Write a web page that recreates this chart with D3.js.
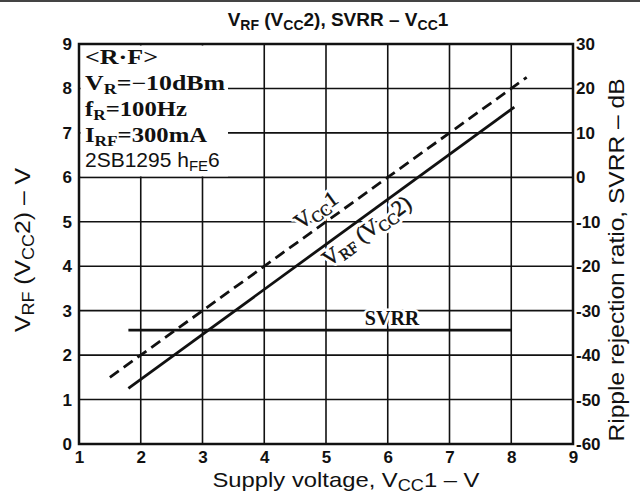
<!DOCTYPE html>
<html><head><meta charset="utf-8">
<script src="https://cdn.jsdelivr.net/npm/d3@7"></script>
<style>html,body{margin:0;padding:0;background:#fff}</style>
</head><body><svg id="chart" width="640" height="494"></svg>
<script>
// Axis ticks
const xTicks = [1, 2, 3, 4, 5, 6, 7, 8, 9];
const leftTicks = [0, 1, 2, 3, 4, 5, 6, 7, 8, 9];
const rightTicks = [-60, -50, -40, -30, -20, -10, 0, 10, 20, 30];

// Curves: supply voltage VCC1 (V) on x
const vcc1X = [1.5, 8.25];
const vcc1Y = [1.5, 8.25];          // V
const vrfX = [1.8, 8.05];
const vrfY = [1.25, 7.58];          // V_RF (VCC2), V
const svrrX = [1.8, 8.0];
const svrrDb = [-34.4, -34.4];      // dB

// Test conditions block
const condLines = [
  [["<R·F>", 0]],
  [["V", 0], ["R", 1], ["=−10dBm", 0]],
  [["f", 0], ["R", 1], ["=100Hz", 0]],
  [["I", 0], ["RF", 1], ["=300mA", 0]]
];

const svg = d3.select("#chart");
const m = {l: 79, r: 573, t: 44, b: 444};
const x = d3.scaleLinear().domain([1, 9]).range([m.l, m.r]);
const yL = d3.scaleLinear().domain([0, 9]).range([m.b, m.t]);
const yR = d3.scaleLinear().domain([-60, 30]).range([m.b, m.t]);

const ink = "#111";
const SANS = "'Liberation Sans', Arial, sans-serif";
const SERIF = "'Liberation Serif', 'Times New Roman', serif";

// text with subscript runs
function rich(t, parts, subSize, shift) {
  let down = false;
  parts.forEach(([s, sub]) => {
    const ts = t.append("tspan").text(s);
    if (sub) {
      ts.style("font-size", subSize + "px");
      if (!down) { ts.attr("dy", shift); down = true; }
    } else if (down) { ts.attr("dy", -shift); down = false; }
  });
  return t;
}

// frame line across the top
svg.append("rect").attr("x", 0).attr("y", 0).attr("width", 640).attr("height", 2).attr("fill", "#444");

// grid
const grid = svg.append("g").attr("stroke", ink).attr("stroke-width", 1.6);
grid.selectAll("line.v").data(xTicks).join("line")
  .attr("x1", d => x(d)).attr("x2", d => x(d)).attr("y1", m.t).attr("y2", m.b);
grid.selectAll("line.h").data(leftTicks).join("line")
  .attr("x1", m.l).attr("x2", m.r).attr("y1", d => yL(d)).attr("y2", d => yL(d));

// clear area for the conditions block
svg.append("rect").attr("x", m.l + 1.5).attr("y", m.t + 1.5)
  .attr("width", 228 - m.l - 1.5).attr("height", yL(6) - m.t - 2.5).attr("fill", "#fff");

// conditions text
const condBase = [64, 90, 116, 142];
const condLen = [73, 140, 102, 122];
condLines.forEach((parts, i) => {
  const t = svg.append("text").attr("x", 85).attr("y", condBase[i])
    .style("font-family", SERIF).style("font-weight", "bold").style("font-size", "20px")
    .attr("fill", ink).attr("textLength", condLen[i]).attr("lengthAdjust", "spacingAndGlyphs");
  rich(t, parts, 14, 4);
});
rich(svg.append("text").attr("x", 85).attr("y", 167)
  .style("font-family", SANS).style("font-size", "21px").attr("fill", ink),
  [["2SB1295 h", 0], ["FE", 1], ["6", 0]], 15, 4);

// curve labels along the slope
const ang = -Math.atan((yL(0) - yL(1)) / (x(2) - x(1))) * 180 / Math.PI;
function slopeLabel(cx, cy, parts) {
  const g = svg.append("g").attr("transform", `translate(${x(cx)},${yL(cy)}) rotate(${ang})`);
  // white halo first, then the glyphs with a slight outline for weight
  [["#fff", 6], [ink, 0.5]].forEach(([s, w]) => {
    const t = g.append("text").attr("y", 7).attr("text-anchor", "middle")
      .style("font-family", SERIF).style("font-size", "22px")
      .attr("fill", ink).attr("stroke", s).attr("stroke-width", w)
      .attr("stroke-linejoin", "round");
    rich(t, parts, 16, 4);
  });
}
slopeLabel(4.84, 5.26, [["V", 0], ["CC", 1], ["1", 0]]);
slopeLabel(5.66, 4.79, [["V", 0], ["RF", 1], [" (V", 0], ["CC", 1], ["2)", 0]]);
svg.append("text").attr("x", x(6.07)).attr("y", yR(svrrDb[0]) - 5).attr("text-anchor", "middle")
  .style("font-family", SERIF).style("font-weight", "bold").style("font-size", "20px")
  .attr("fill", ink).attr("stroke", "#fff").attr("stroke-width", 5)
  .attr("stroke-linejoin", "round").style("paint-order", "stroke").text("SVRR");

// curves
const lineL = d3.line().x(d => x(d[0])).y(d => yL(d[1]));
const lineR = d3.line().x(d => x(d[0])).y(d => yR(d[1]));
svg.append("path").attr("d", lineL(d3.zip(vcc1X, vcc1Y))).attr("fill", "none")
  .attr("stroke", ink).attr("stroke-width", 2.8).attr("stroke-dasharray", "11,6");
svg.append("path").attr("d", lineL(d3.zip(vrfX, vrfY))).attr("fill", "none")
  .attr("stroke", ink).attr("stroke-width", 2.8);
svg.append("path").attr("d", lineR(d3.zip(svrrX, svrrDb))).attr("fill", "none")
  .attr("stroke", ink).attr("stroke-width", 2.8);

// plot border
svg.append("rect").attr("x", m.l).attr("y", m.t).attr("width", m.r - m.l).attr("height", m.b - m.t)
  .attr("fill", "none").attr("stroke", ink).attr("stroke-width", 2.5);

// tick labels
function styleAxis(g) {
  g.select(".domain").remove();
  g.selectAll("text").style("font-family", SANS).style("font-weight", "bold")
    .style("font-size", "17px").attr("fill", ink);
}
svg.append("g").attr("transform", `translate(${m.l},0)`)
  .call(d3.axisLeft(yL).tickValues(leftTicks).tickSize(0).tickPadding(7).tickFormat(d => String(d)))
  .call(styleAxis);
svg.append("g").attr("transform", `translate(${m.r},0)`)
  .call(d3.axisRight(yR).tickValues(rightTicks).tickSize(0).tickPadding(3).tickFormat(d => String(d)))
  .call(styleAxis);
svg.append("g").attr("transform", `translate(0,${m.b})`)
  .call(d3.axisBottom(x).tickValues(xTicks).tickSize(0).tickPadding(7).tickFormat(d => String(d)))
  .call(styleAxis);

// titles
rich(svg.append("text").attr("x", 338).attr("y", 26).attr("text-anchor", "middle")
  .style("font-family", SANS).style("font-weight", "bold").style("font-size", "19px").attr("fill", ink),
  [["V", 0], ["RF", 1], [" (V", 0], ["CC", 1], ["2), SVRR – V", 0], ["CC", 1], ["1", 0]], 14, 4);

rich(svg.append("text").attr("x", 346).attr("y", 487).attr("text-anchor", "middle")
  .style("font-family", SANS).style("font-size", "21px").attr("fill", ink)
  .attr("textLength", 267).attr("lengthAdjust", "spacingAndGlyphs"),
  [["Supply voltage, V", 0], ["CC", 1], ["1 – V", 0]], 16, 4);

rich(svg.append("text").attr("transform", "translate(30,250) rotate(-90)").attr("text-anchor", "middle")
  .style("font-family", SANS).style("font-size", "22px").attr("fill", ink)
  .attr("textLength", 164).attr("lengthAdjust", "spacingAndGlyphs"),
  [["V", 0], ["RF", 1], [" (V", 0], ["CC", 1], ["2) – V", 0]], 16, 4);

svg.append("text").attr("transform", "translate(624,260) rotate(-90)").attr("text-anchor", "middle")
  .style("font-family", SANS).style("font-size", "22px").attr("fill", ink)
  .attr("textLength", 363).attr("lengthAdjust", "spacingAndGlyphs")
  .text("Ripple rejection ratio, SVRR – dB");
</script>
</body></html>
